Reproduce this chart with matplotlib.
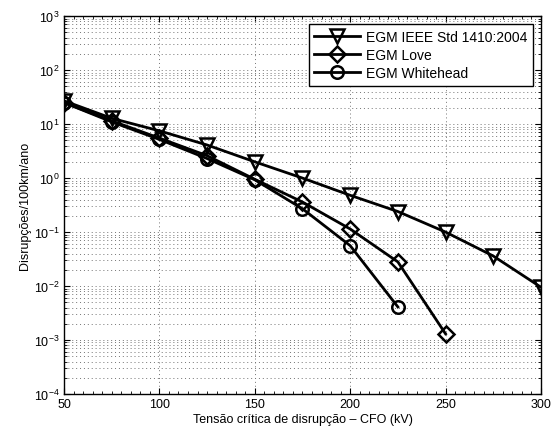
import numpy as np
import matplotlib
matplotlib.use("Agg")
import matplotlib.pyplot as plt
from matplotlib.ticker import LogLocator, MultipleLocator, NullFormatter

plt.rcParams['font.family'] = ['Liberation Sans', 'DejaVu Sans']
plt.rcParams['mathtext.fontset'] = 'custom'
plt.rcParams['mathtext.rm'] = 'Liberation Sans'

# tensao critica (kV)
cfo_ieee = [50, 75, 100, 125, 150, 175, 200, 225, 250, 275, 300]
cfo_love = [50, 75, 100, 125, 150, 175, 200, 225, 250]
cfo_white = [50, 75, 100, 125, 150, 175, 200, 225]

# disrupcoes/100km/ano
ieee = [27, 12.8, 7.5, 4.1, 2.0, 1.0, 0.48, 0.24, 0.1, 0.036, 0.0095]
love = [25, 11.5, 5.5, 2.6, 0.95, 0.36, 0.114, 0.028, 0.0013]
white = [25, 11, 5.2, 2.3, 0.93, 0.27, 0.056, 0.0041]

fig = plt.figure(figsize=(5.54, 4.39), dpi=100)
ax = fig.add_axes([0.1155, 0.1002, 0.861, 0.8608])

lw = 2
ax.semilogy(cfo_ieee, ieee, 'k-', marker='v', markersize=10, markeredgewidth=1.8,
            markerfacecolor='none', linewidth=lw, label='EGM IEEE Std 1410:2004')
ax.semilogy(cfo_love, love, 'k-', marker='D', markersize=8, markeredgewidth=1.8,
            markerfacecolor='none', linewidth=lw, label='EGM Love')
ax.semilogy(cfo_white, white, 'k-', marker='o', markersize=9, markeredgewidth=1.8,
            markerfacecolor='none', linewidth=lw, label='EGM Whitehead')

ax.set_xlim(50, 300)
ax.set_ylim(1e-4, 1e3)
ax.xaxis.set_major_locator(MultipleLocator(50))
ax.xaxis.set_minor_locator(MultipleLocator(5))
ax.yaxis.set_major_locator(LogLocator(base=10, numticks=20))
ax.yaxis.set_minor_locator(LogLocator(base=10, subs=np.arange(2, 10), numticks=20))
ax.yaxis.set_minor_formatter(NullFormatter())

grid_style = dict(linestyle=(0, (1, 3)), color='0.45', linewidth=0.7)
ax.grid(True, which='major', axis='both', **grid_style)
ax.grid(True, which='minor', axis='y', **grid_style)

ax.tick_params(which='both', direction='in', top=True, right=True, labelsize=9)
ax.tick_params(which='major', length=4, pad=3)
ax.tick_params(which='minor', length=2)
for s in ax.spines.values():
    s.set_linewidth(1)

ax.set_xlabel('Tensão crítica de disrupção – CFO (kV)', fontsize=9, labelpad=2)
ax.set_ylabel('Disrupções/100km/ano', fontsize=9, labelpad=2)

leg = ax.legend(loc='upper right', fontsize=10, fancybox=False, framealpha=1,
                edgecolor='k', borderpad=0.4, labelspacing=0.3, handlelength=3.3,
                handletextpad=0.4, borderaxespad=0.6, numpoints=1)
leg.get_frame().set_linewidth(1)

fig.savefig('out.png', dpi=100)
